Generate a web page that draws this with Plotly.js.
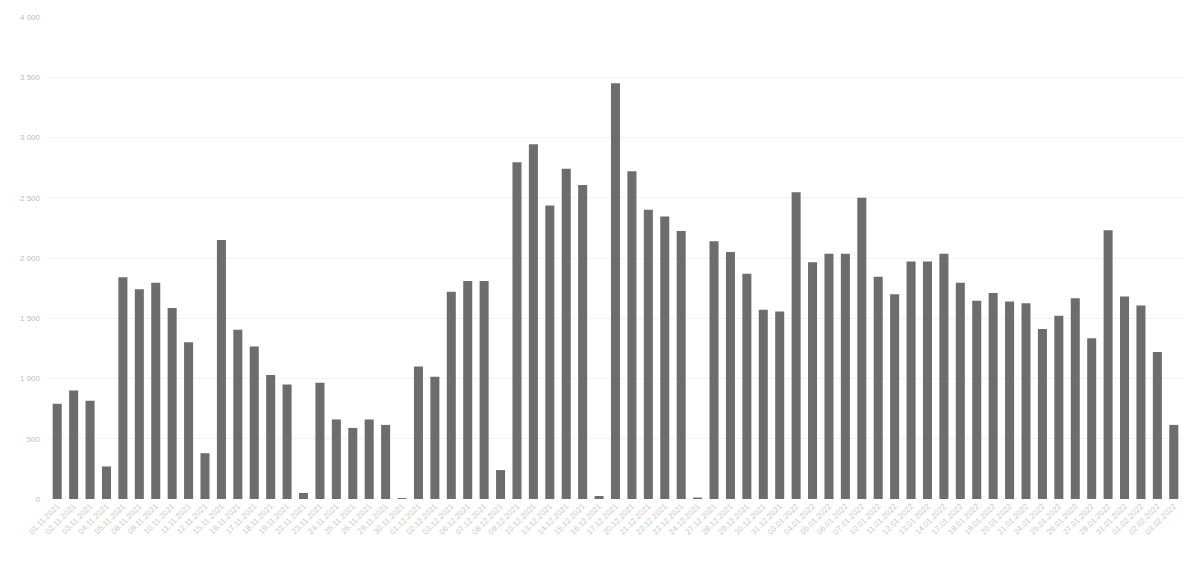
<!DOCTYPE html>
<html>
<head>
<meta charset="utf-8">
<script src="https://cdn.plot.ly/plotly-3.0.1.min.js"></script>
<style>
html,body{margin:0;padding:0;background:#fff;}
#chart{width:1186px;height:562px;}
</style>
</head>
<body>
<div id="chart"></div>
<script>
// Category labels (dates, estimated — the originals are illegible)
const categories = [
  "01.11.2021","02.11.2021","03.11.2021","04.11.2021","05.11.2021",
  "08.11.2021","09.11.2021","10.11.2021","11.11.2021","12.11.2021",
  "15.11.2021","16.11.2021","17.11.2021","18.11.2021","19.11.2021",
  "22.11.2021","23.11.2021","24.11.2021","25.11.2021","26.11.2021",
  "29.11.2021","30.11.2021",
  "01.12.2021","02.12.2021","03.12.2021",
  "06.12.2021","07.12.2021","08.12.2021","09.12.2021","10.12.2021",
  "13.12.2021","14.12.2021","15.12.2021","16.12.2021","17.12.2021",
  "20.12.2021","21.12.2021","22.12.2021","23.12.2021","24.12.2021",
  "27.12.2021","28.12.2021","29.12.2021","30.12.2021","31.12.2021",
  "03.01.2022","04.01.2022","05.01.2022","06.01.2022","07.01.2022",
  "10.01.2022","11.01.2022","12.01.2022","13.01.2022","14.01.2022",
  "17.01.2022","18.01.2022","19.01.2022","20.01.2022","21.01.2022",
  "24.01.2022","25.01.2022","26.01.2022","27.01.2022","28.01.2022",
  "31.01.2022","01.02.2022","02.02.2022","03.02.2022"
];

// Bar values
const values = [
  790, 900, 815, 270, 1840, 1740, 1795, 1585, 1300, 380,
  2150, 1405, 1265, 1030, 950, 50, 965, 660, 590, 660,
  615, 8, 1100, 1015, 1720, 1810, 1810, 240, 2795, 2945,
  2435, 2740, 2605, 25, 3450, 2720, 2400, 2345, 2225, 12,
  2140, 2050, 1870, 1570, 1555, 2545, 1965, 2035, 2035, 2500,
  1845, 1700, 1970, 1970, 2035, 1795, 1645, 1710, 1640, 1625,
  1410, 1520, 1665, 1335, 2230, 1680, 1605, 1220, 615
];

const yTicks = [0, 500, 1000, 1500, 2000, 2500, 3000, 3500, 4000];

const trace = {
  type: 'bar',
  x: categories,
  y: values,
  marker: {color: '#6d6d6d'},
  hoverinfo: 'x+y'
};

const layout = {
  width: 1186,
  height: 562,
  margin: {l: 49, r: 4, t: 17, b: 63},
  paper_bgcolor: '#ffffff',
  plot_bgcolor: '#ffffff',
  separators: ', ',
  bargap: 0.45,
  showlegend: false,
  font: {family: 'Liberation Sans, Arial, sans-serif', color: '#c4c4c4', size: 8},
  xaxis: {
    type: 'category',
    tickangle: -45,
    showgrid: false,
    zeroline: false,
    showline: false,
    ticks: '',
    tickfont: {size: 8, color: '#cacaca'},
    automargin: false
  },
  yaxis: {
    range: [0, 4000],
    tickvals: yTicks,
    separatethousands: true,
    tickformat: ',d',
    showgrid: true,
    gridcolor: '#f2f2f2',
    gridwidth: 1,
    zeroline: false,
    showline: false,
    ticks: '',
    ticklabelstandoff: 8,
    tickfont: {size: 8, color: '#bdbdbd'},
    automargin: false
  }
};

Plotly.newPlot('chart', [trace], layout, {displayModeBar: false, staticPlot: true});
</script>
</body>
</html>
